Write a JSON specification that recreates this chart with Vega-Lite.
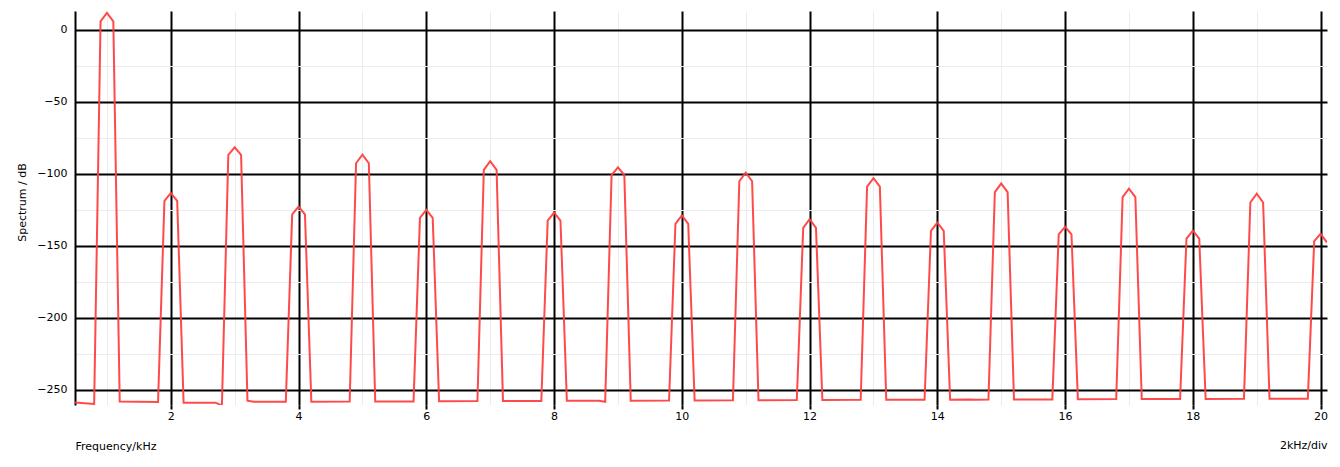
{
  "$schema": "https://vega.github.io/schema/vega-lite/v6.json",
  "width": 1252,
  "height": 394,
  "autosize": {"type": "none"},
  "padding": {"left": 75, "top": 11, "right": 13, "bottom": 62},
  "background": "white",
  "title": {
    "text": "2kHz/div",
    "orient": "bottom",
    "anchor": "end",
    "font": "DejaVu Sans",
    "fontSize": 11,
    "fontWeight": "normal",
    "color": "black",
    "offset": 0,
    "dy": -11
  },
  "config": {
    "view": {"stroke": null},
    "axis": {
      "labelFont": "DejaVu Sans",
      "labelFontSize": 11,
      "labelColor": "black",
      "titleFont": "DejaVu Sans",
      "titleFontSize": 11,
      "titleFontWeight": "normal",
      "titleColor": "black",
      "labelFlush": false,
      "labelOverlap": false
    }
  },
  "data": {
    "values": [
      {"f": 0.5, "db": -258.8},
      {"f": 0.8, "db": -259.9},
      {"f": 0.9, "db": 6.0},
      {"f": 1.0, "db": 11.8},
      {"f": 1.1, "db": 6.0},
      {"f": 1.2, "db": -258.1},
      {"f": 1.8, "db": -258.5},
      {"f": 1.9, "db": -118.8},
      {"f": 2.0, "db": -113.4},
      {"f": 2.1, "db": -118.8},
      {"f": 2.2, "db": -259.0},
      {"f": 2.7, "db": -259.0},
      {"f": 2.8, "db": -260.9},
      {"f": 2.9, "db": -86.8},
      {"f": 3.0, "db": -81.5},
      {"f": 3.1, "db": -86.8},
      {"f": 3.2, "db": -257.6},
      {"f": 3.3, "db": -258.4},
      {"f": 3.8, "db": -258.4},
      {"f": 3.9, "db": -128.2},
      {"f": 4.0, "db": -122.7},
      {"f": 4.1, "db": -128.2},
      {"f": 4.2, "db": -258.3},
      {"f": 4.8, "db": -258.2},
      {"f": 4.9, "db": -92.6},
      {"f": 5.0, "db": -86.6},
      {"f": 5.1, "db": -92.6},
      {"f": 5.2, "db": -258.2},
      {"f": 5.8, "db": -258.1},
      {"f": 5.9, "db": -130.6},
      {"f": 6.0, "db": -125.0},
      {"f": 6.1, "db": -130.6},
      {"f": 6.2, "db": -258.0},
      {"f": 6.8, "db": -257.9},
      {"f": 6.9, "db": -97.2},
      {"f": 7.0, "db": -91.2},
      {"f": 7.1, "db": -97.2},
      {"f": 7.2, "db": -257.9},
      {"f": 7.8, "db": -257.8},
      {"f": 7.9, "db": -132.4},
      {"f": 8.0, "db": -126.9},
      {"f": 8.1, "db": -132.4},
      {"f": 8.2, "db": -257.7},
      {"f": 8.7, "db": -257.7},
      {"f": 8.8, "db": -258.4},
      {"f": 8.9, "db": -100.9},
      {"f": 9.0, "db": -95.4},
      {"f": 9.1, "db": -100.9},
      {"f": 9.2, "db": -257.6},
      {"f": 9.8, "db": -257.5},
      {"f": 9.9, "db": -134.7},
      {"f": 10.0, "db": -128.9},
      {"f": 10.1, "db": -134.7},
      {"f": 10.2, "db": -257.4},
      {"f": 10.8, "db": -257.3},
      {"f": 10.9, "db": -105.1},
      {"f": 11.0, "db": -99.1},
      {"f": 11.1, "db": -105.1},
      {"f": 11.2, "db": -257.3},
      {"f": 11.8, "db": -257.2},
      {"f": 11.9, "db": -137.5},
      {"f": 12.0, "db": -131.5},
      {"f": 12.1, "db": -137.5},
      {"f": 12.2, "db": -257.1},
      {"f": 12.8, "db": -257.0},
      {"f": 12.9, "db": -108.8},
      {"f": 13.0, "db": -103.0},
      {"f": 13.1, "db": -108.8},
      {"f": 13.2, "db": -257.0},
      {"f": 13.8, "db": -256.9},
      {"f": 13.9, "db": -139.6},
      {"f": 14.0, "db": -133.8},
      {"f": 14.1, "db": -139.6},
      {"f": 14.2, "db": -256.9},
      {"f": 14.5, "db": -256.7},
      {"f": 14.6, "db": -257.0},
      {"f": 14.8, "db": -256.8},
      {"f": 14.9, "db": -112.7},
      {"f": 15.0, "db": -106.7},
      {"f": 15.1, "db": -112.7},
      {"f": 15.2, "db": -256.7},
      {"f": 15.8, "db": -256.7},
      {"f": 15.9, "db": -142.1},
      {"f": 16.0, "db": -136.8},
      {"f": 16.1, "db": -142.1},
      {"f": 16.2, "db": -256.6},
      {"f": 16.8, "db": -256.5},
      {"f": 16.9, "db": -116.2},
      {"f": 17.0, "db": -110.2},
      {"f": 17.1, "db": -116.2},
      {"f": 17.2, "db": -256.5},
      {"f": 17.8, "db": -256.4},
      {"f": 17.9, "db": -144.9},
      {"f": 18.0, "db": -139.4},
      {"f": 18.1, "db": -144.9},
      {"f": 18.2, "db": -256.4},
      {"f": 18.8, "db": -256.3},
      {"f": 18.9, "db": -119.9},
      {"f": 19.0, "db": -113.7},
      {"f": 19.1, "db": -119.9},
      {"f": 19.2, "db": -256.3},
      {"f": 19.8, "db": -256.2},
      {"f": 19.9, "db": -146.7},
      {"f": 20.0, "db": -141.7},
      {"f": 20.1, "db": -147.7}
    ]
  },
  "mark": {"type": "line", "color": "#ff4040", "strokeWidth": 2, "opacity": 0.95, "clip": true},
  "encoding": {
    "x": {
      "field": "f",
      "type": "quantitative",
      "scale": {"domain": [0.5, 20.1], "nice": false, "zero": false},
      "axis": {
        "values": [1, 2, 3, 4, 5, 6, 7, 8, 9, 10, 11, 12, 13, 14, 15, 16, 17, 18, 19, 20],
        "labelExpr": "datum.value % 2 === 0 ? datum.label : ''",
        "grid": true,
        "gridColor": {"condition": {"test": "datum.value % 2 === 0", "value": "black"}, "value": "#ececec"},
        "gridWidth": {"condition": {"test": "datum.value % 2 === 0", "value": 2}, "value": 1},
        "gridOpacity": 1,
        "domain": false,
        "ticks": true,
        "tickSize": 4,
        "tickWidth": 2,
        "tickColor": {"condition": {"test": "datum.value % 2 === 0", "value": "black"}, "value": "transparent"},
        "labelPadding": 1,
        "title": "Frequency/kHz",
        "titleX": 0,
        "titleY": 41,
        "titleAlign": "left",
        "titleBaseline": "middle",
        "titleAngle": 0
      }
    },
    "y": {
      "field": "db",
      "type": "quantitative",
      "scale": {"domain": [-260.6, 13.2], "nice": false, "zero": false},
      "axis": {
        "values": [-250, -225, -200, -175, -150, -125, -100, -75, -50, -25, 0],
        "labelExpr": "datum.value % 50 === 0 ? datum.label : ''",
        "grid": true,
        "gridColor": {"condition": {"test": "datum.value % 50 === 0", "value": "black"}, "value": "#ececec"},
        "gridWidth": {"condition": {"test": "datum.value % 50 === 0", "value": 2}, "value": 1},
        "gridOpacity": 1,
        "domain": true,
        "domainColor": "black",
        "domainWidth": 2,
        "ticks": false,
        "labelPadding": 8,
        "title": "Spectrum / dB",
        "titleX": -53,
        "titleY": 191,
        "titleAlign": "center",
        "titleBaseline": "middle",
        "titleAngle": -90
      }
    }
  }
}
